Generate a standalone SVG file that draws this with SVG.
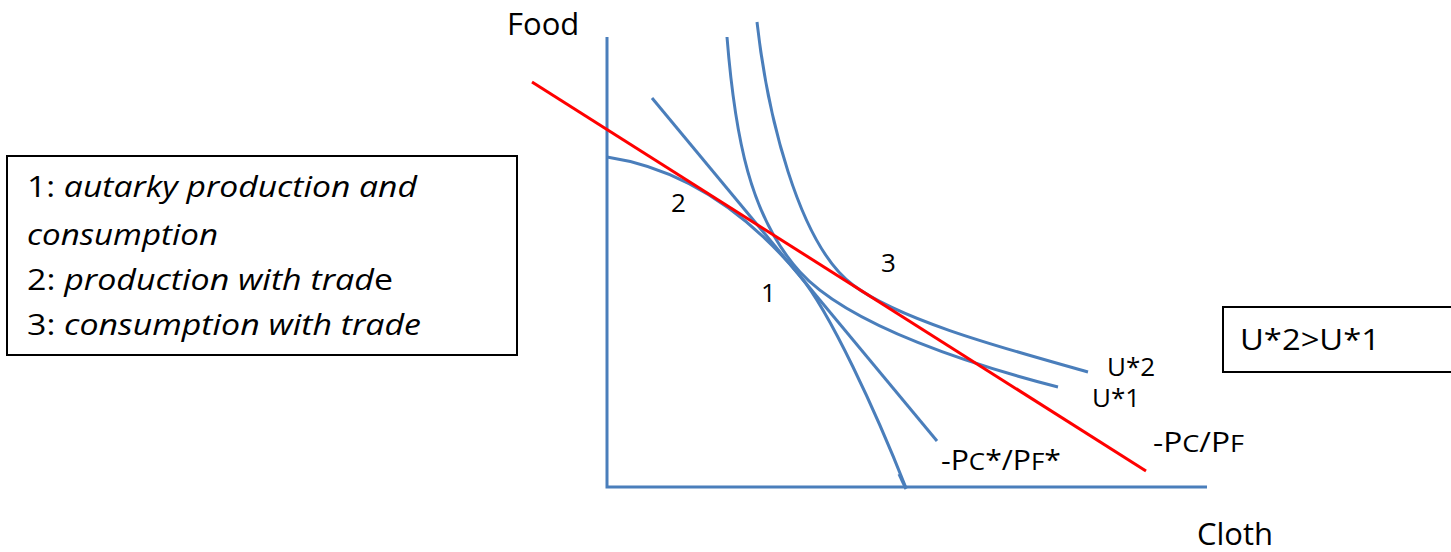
<svg xmlns="http://www.w3.org/2000/svg" width="1451" height="552" viewBox="0 0 1451 552">
<style>
.ax{fill:none;stroke:#4a7ebb;stroke-width:3}
.cv{fill:none;stroke:#4a7ebb;stroke-width:3}
.rd{fill:none;stroke:#ff0000;stroke-width:3}
.bx{fill:#ffffff;stroke:#000000;stroke-width:2}
text{font-family:"Open Sans","Liberation Sans",sans-serif;fill:#000000}
.it{font-style:italic}
.lg{font-size:29px}
</style>
<rect width="1451" height="552" fill="#ffffff"/>
<g id="legend">
<rect class="bx" x="7" y="156" width="510" height="199"/>
<text class="lg" x="27" y="197" textLength="390" lengthAdjust="spacingAndGlyphs">1: <tspan class="it">autarky production and</tspan></text>
<text class="lg it" x="27" y="245" textLength="191" lengthAdjust="spacingAndGlyphs">consumption</text>
<text class="lg" x="27" y="290" textLength="366" lengthAdjust="spacingAndGlyphs">2: <tspan class="it">production with trad</tspan>e</text>
<text class="lg" x="27" y="335" textLength="394" lengthAdjust="spacingAndGlyphs">3: <tspan class="it">consumption with trade</tspan></text>
</g>
<g id="note">
<rect class="bx" x="1223" y="307" width="240" height="65"/>
<text x="1240" y="350" font-size="30" textLength="140" lengthAdjust="spacingAndGlyphs">U*2&gt;U*1</text>
</g>
<g id="axes">
<path class="ax" d="M607,37 V487 H1207"/>
<text x="507" y="35" font-size="31">Food</text>
<text x="1197" y="545" font-size="31">Cloth</text>
</g>
<g id="connectors">
<path id="ppf" class="cv" d="M607,157 C680,168 745,210 800,276 C830,312 876,412 906,488"/>
<path class="cv" d="M899,474 L906,489"/>
<path id="steep" class="cv" d="M652,98 L937,441"/>
<path id="u1" class="cv" d="M727,37 C735,137 750,217 800,272 C850,327 978,366.5 1058,387"/>
<path id="u2" class="cv" d="M757,22 C767,112 798,244 853,285 C903,322.5 1018,352 1088,372"/>
<path id="red" class="rd" d="M532,82 L1146,471"/>
</g>
<g id="labels">
<text x="671" y="212" font-size="26">2</text>
<text x="761" y="302" font-size="26">1</text>
<text x="881" y="272" font-size="26">3</text>
<text x="1107" y="376" font-size="26">U*2</text>
<text x="1092" y="407" font-size="26">U*1</text>
<text x="1153" y="452" font-size="28" textLength="91" lengthAdjust="spacingAndGlyphs">-P<tspan font-size="24">C</tspan>/P<tspan font-size="24">F</tspan></text>
<text x="941" y="470" font-size="28" textLength="120" lengthAdjust="spacingAndGlyphs">-P<tspan font-size="24">C</tspan>*/P<tspan font-size="24">F</tspan>*</text>
</g>
</svg>
